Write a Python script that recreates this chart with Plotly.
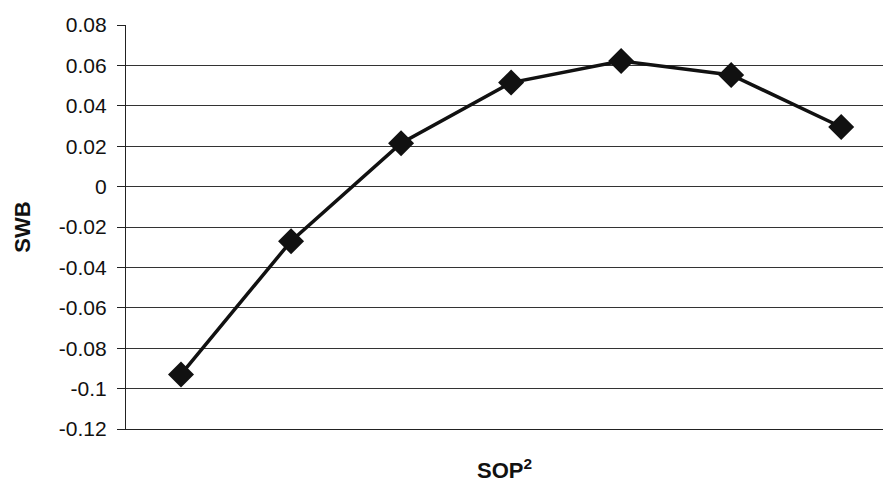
import plotly.graph_objects as go

categories = [1, 2, 3, 4, 5, 6, 7]
swb = [-0.093, -0.027, 0.0215, 0.0515, 0.0622, 0.0553, 0.0295]
y_ticks = [0.08, 0.06, 0.04, 0.02, 0, -0.02, -0.04, -0.06, -0.08, -0.1, -0.12]
y_tick_labels = ["0.08", "0.06", "0.04", "0.02", "0", "-0.02", "-0.04", "-0.06", "-0.08", "-0.1", "-0.12"]

fig = go.Figure()
fig.add_trace(go.Scatter(
    x=categories, y=swb, mode="lines+markers",
    line=dict(color="#111111", width=3.5),
    marker=dict(symbol="diamond", size=20, color="#111111"),
    showlegend=False,
))

fig.update_layout(
    width=883, height=485,
    margin=dict(l=126, r=0, t=25, b=56),
    paper_bgcolor="white", plot_bgcolor="white",
    font=dict(family="Liberation Sans, Arial, sans-serif", color="#111111"),
    xaxis=dict(
        range=[0.5, 7.38], showticklabels=False, showgrid=False, zeroline=False,
        showline=True, linecolor="#222222", linewidth=1.2, ticks="",
        title=dict(text="<b>SOP<sup>2</sup></b>", font=dict(size=22), standoff=33),
    ),
    yaxis=dict(
        range=[-0.12, 0.08], tickvals=y_ticks, ticktext=y_tick_labels,
        showgrid=True, gridcolor="#333333", gridwidth=1, zeroline=False,
        showline=True, linecolor="#222222", linewidth=1.2,
        ticks="outside", ticklen=8, tickcolor="#222222", tickfont=dict(size=21),
        ticklabelstandoff=6,
        title=dict(text="<b>SWB</b>", font=dict(size=22), standoff=22),
    ),
)

fig.write_html("out.html", config={"displayModeBar": False})

with open("out.html", "r", encoding="utf-8") as f:
    html = f.read()
html = html.replace("<head>", "<head><style>html,body{margin:0;padding:0;overflow:hidden;}</style>", 1)
with open("out.html", "w", encoding="utf-8") as f:
    f.write(html)
